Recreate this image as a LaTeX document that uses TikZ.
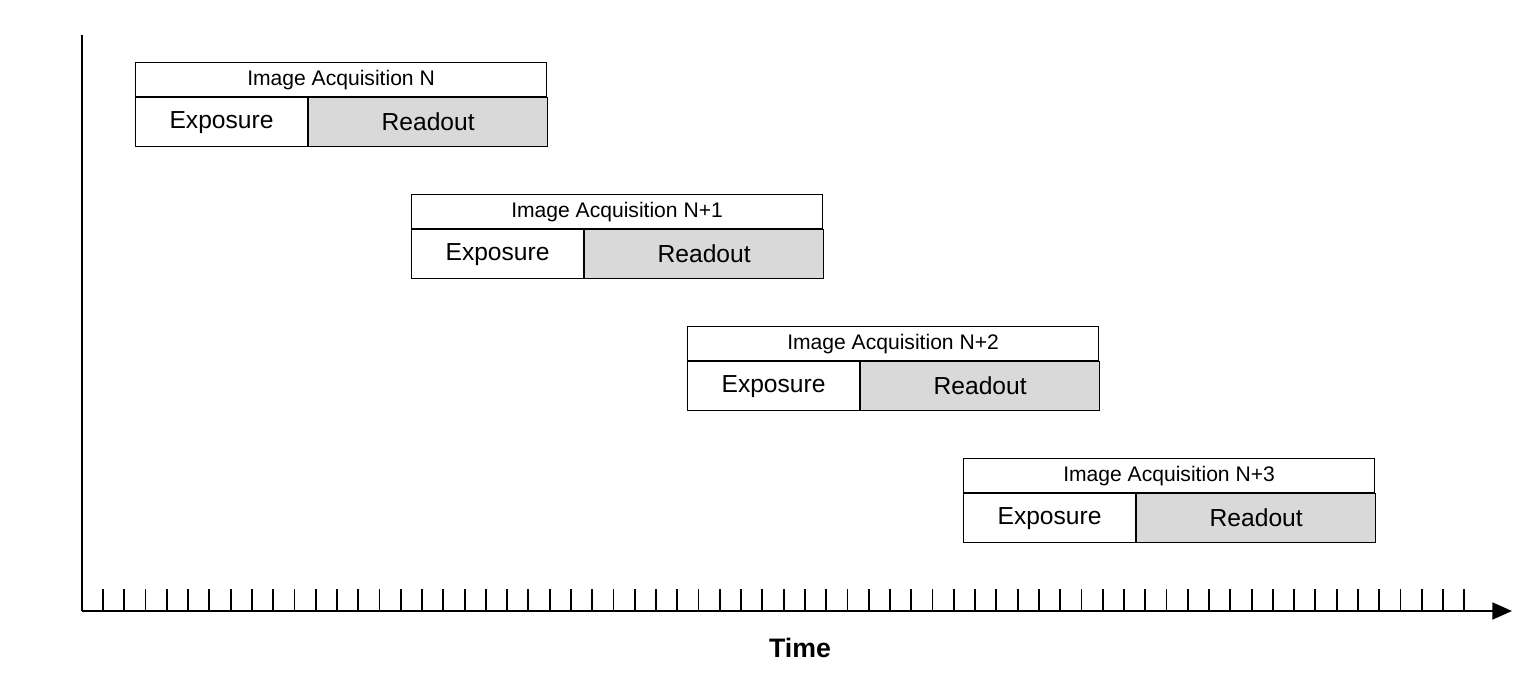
\documentclass[tikz,border=0pt]{standalone}
\usepackage{fontspec}
\setmainfont{Liberation Sans}
\usetikzlibrary{positioning,arrows.meta}
\tikzset{
    hdrnode/.style={draw=black, thick, minimum width=411*0.025cm, minimum height=34*0.025cm,
        inner sep=0pt, font=\fontsize{15}{15}\selectfont},
    expnode/.style={draw=black, thick, fill=white, minimum width=172*0.025cm, minimum height=49*0.025cm,
        inner sep=0pt, font=\fontsize{17.5}{17.5}\selectfont},
    rdnode/.style={draw=black, thick, fill=gray!30, minimum width=239*0.025cm, minimum height=49*0.025cm,
        inner sep=0pt, font=\fontsize{17.5}{17.5}\selectfont}
}
\begin{document}
\begin{tikzpicture}[x=0.025cm,y=-0.025cm]
    \useasboundingbox (0,0) rectangle (1536,672);
    % axes
    \coordinate (org) at (82,611);
    \coordinate (top) at (82,35);
    \coordinate (tend) at (1512,611);
    \draw[line width=1.6pt] (top) -- (org);
    \draw[line width=1.6pt, -{Triangle[length=14pt,width=12pt]}] (org) -- (tend);
    \foreach \k in {0,...,64}
        \draw[line width=1.3pt] (103+\k*21.27,611) -- (103+\k*21.27,589);
    \node[font=\bfseries\fontsize{19}{19}\selectfont] (time) at (800,648) {Time};
    % acquisitions
    \foreach \i/\lab in {0/N,1/N+1,2/N+2,3/N+3}{
        \node[hdrnode, anchor=north west] (acq\i) at (135+\i*276,62+\i*132) {Image Acquisition \lab};
        \node[expnode, anchor=north west] (exp\i) at (acq\i.south west) {Exposure};
        \node[rdnode, anchor=north west] (rd\i) at (exp\i.north east) {Readout};
    }
\end{tikzpicture}
\end{document}
